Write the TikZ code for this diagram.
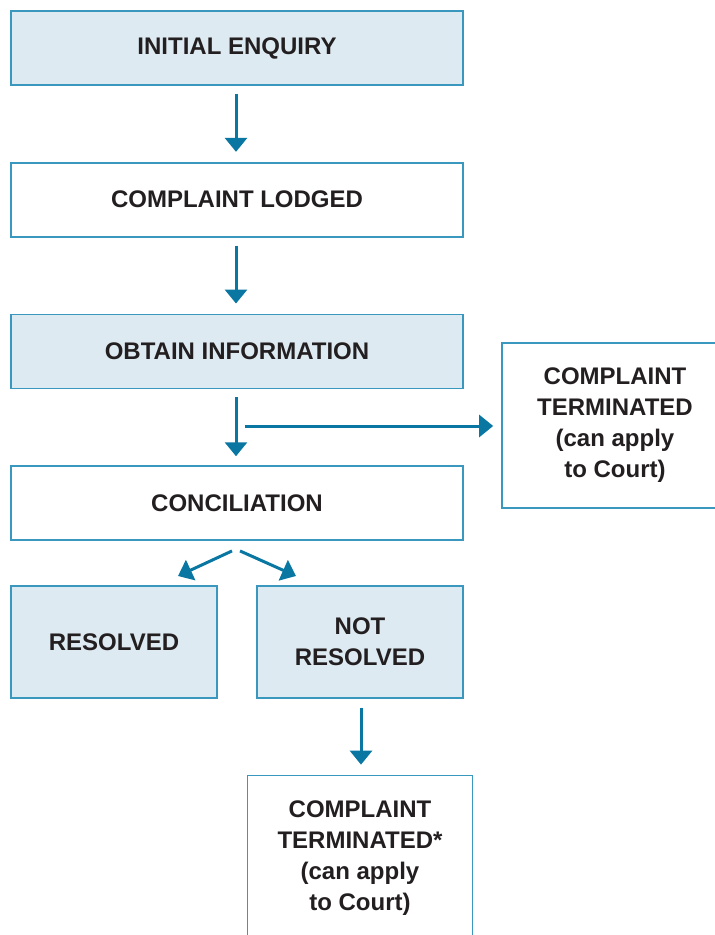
\documentclass[tikz,border=0pt]{standalone}
\usepackage{fontspec}
\setmainfont{Liberation Sans}
\usetikzlibrary{positioning,arrows.meta}

\definecolor{boxline}{HTML}{3A97BE}
\definecolor{boxfill}{HTML}{DEEAF2}
\definecolor{arrowcol}{HTML}{0A77A3}
\definecolor{textcol}{HTML}{231F20}

\begin{document}
\begin{tikzpicture}[node distance=38pt]
    % Define styles
    \tikzstyle{stage}=[rectangle, draw=boxline, line width=0.85pt, text=textcol, minimum width=226pt, minimum height=37pt, align=center, inner sep=0pt, font=\bfseries\fontsize{12}{15.5}\selectfont]
    \tikzstyle{shaded}=[stage, fill=boxfill]
    \tikzstyle{plain}=[stage, fill=white]
    \tikzstyle{arrow}=[-{Triangle[length=7pt,width=11pt]}, draw=arrowcol, fill=arrowcol, line width=1.5pt]

    \useasboundingbox (0,0) rectangle (357.5pt,-467.5pt);
    \clip (0,0) rectangle (357.5pt,-467.5pt);

    % Main stages
    \node[shaded] (enquiry) at (118.5pt,-24pt) {INITIAL ENQUIRY};
    \node[plain] (lodged) [below=of enquiry] {COMPLAINT LODGED};
    \node[shaded] (info) [below=of lodged] {OBTAIN INFORMATION};
    \node[plain] (concil) [below=of info] {CONCILIATION};

    % Outcomes
    \node[shaded, minimum width=103pt, minimum height=56pt] (resolved) [below=22pt of concil.south west, anchor=north west] {RESOLVED};
    \node[shaded, minimum width=103pt, minimum height=56pt] (notres) [below=22pt of concil.south east, anchor=north east] {NOT\\RESOLVED};

    % Terminated
    \node[plain, minimum width=113pt, minimum height=82.5pt] (termside) at (307.5pt,-212.75pt) {COMPLAINT\\TERMINATED\\(can apply\\to Court)};
    \node[plain, minimum width=112.5pt, minimum height=83pt] (termlow) [below=of notres] {COMPLAINT\\TERMINATED*\\(can apply\\to Court)};

    % Helper points
    \coordinate (split) at (118pt,-213pt);
    \coordinate (forkL) at ([xshift=-2.5pt, yshift=-5pt]concil.south);
    \coordinate (forkR) at ([xshift=1.5pt, yshift=-5pt]concil.south);
    \coordinate (resin) at (89pt,-288pt);
    \coordinate (notin) at (148pt,-288pt);

    % Connections
    \draw[arrow, shorten <=4pt, shorten >=5pt] ([xshift=-0.5pt]enquiry.south) -- ([xshift=-0.5pt]lodged.north);
    \draw[arrow, shorten <=4pt, shorten >=5pt] ([xshift=-0.5pt]lodged.south) -- ([xshift=-0.5pt]info.north);
    \draw[arrow, shorten <=4pt, shorten >=4.5pt] ([xshift=-0.5pt]info.south) -- ([xshift=-0.5pt]concil.north);
    \draw[arrow, shorten <=4.5pt, shorten >=4pt] (split) -- (termside.west |- split);
    \draw[arrow] (forkL) -- (resin);
    \draw[arrow] (forkR) -- (notin);
    \draw[arrow, shorten <=4.5pt, shorten >=5pt] ([xshift=0.5pt]notres.south) -- ([xshift=0.5pt]notres.south |- termlow.north);
\end{tikzpicture}
\end{document}
